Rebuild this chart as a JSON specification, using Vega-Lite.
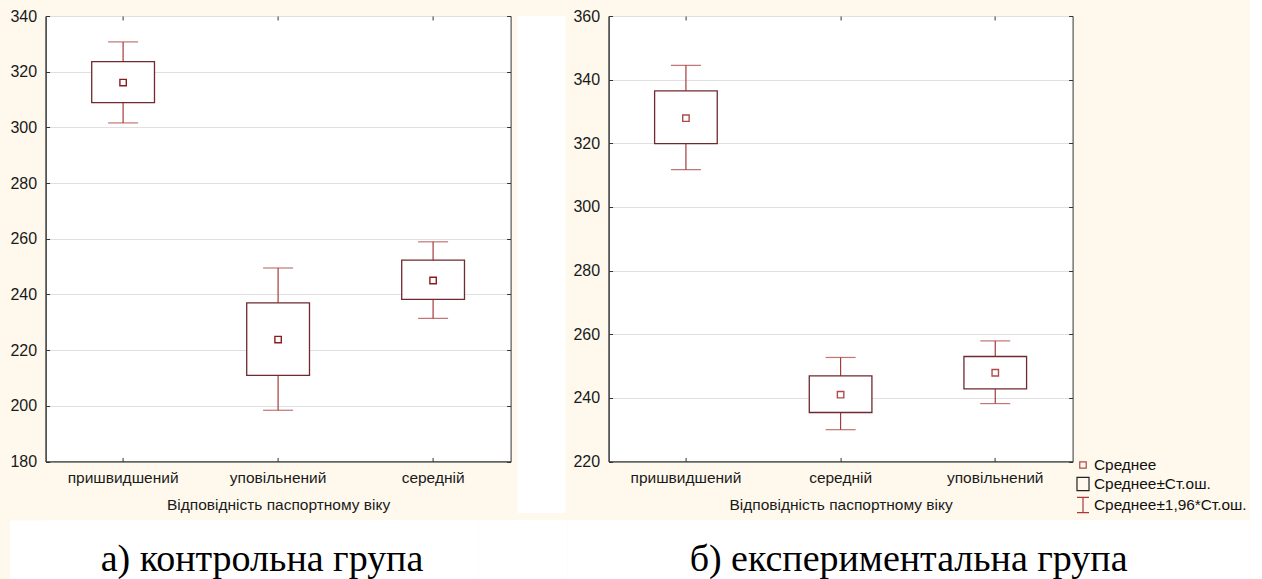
{
  "$schema": "https://vega.github.io/schema/vega-lite/v6.json",
  "background": "#fff9ed",
  "padding": {"left": 8.6, "top": 7, "right": 0, "bottom": 0},
  "spacing": 3,
  "align": "none",
  "resolve": {"legend": {"shape": "independent", "color": "independent"}},
  "config": {
    "font": "Liberation Sans",
    "view": {"stroke": "#333333", "strokeWidth": 1, "fill": "white"},
    "axis": {
      "labelFont": "Liberation Sans",
      "titleFont": "Liberation Sans",
      "labelColor": "#1a1a1a",
      "titleColor": "#1a1a1a",
      "titleFontWeight": "normal",
      "domainColor": "#333333",
      "tickColor": "#333333",
      "gridColor": "#e0e0e0",
      "gridWidth": 1.2
    },
    "legend": {"labelFont": "Liberation Sans"}
  },
  "vconcat": [
    {
      "spacing": 6,
      "align": "none",
      "resolve": {"legend": {"shape": "independent", "color": "independent"}},
      "hconcat": [
        {
          "width": 465,
          "height": 445.5,
          "data": {"values": [
            {"category": "пришвидшений", "mean": 316.1, "box_lo": 308.9, "box_hi": 323.6, "wh_lo": 301.6, "wh_hi": 330.7},
            {"category": "уповільнений", "mean": 223.8, "box_lo": 210.9, "box_hi": 237.0, "wh_lo": 198.4, "wh_hi": 249.5},
            {"category": "середній", "mean": 245.0, "box_lo": 238.2, "box_hi": 252.3, "wh_lo": 231.4, "wh_hi": 258.9}
          ]},
          "layer": [
            {
              "mark": {"type": "rule", "color": "#a83a3a", "strokeWidth": 1.2},
              "encoding": {
                "x": {"field": "category", "type": "nominal", "sort": null,
                  "scale": {"domain": ["пришвидшений", "уповільнений", "середній"], "paddingInner": 0, "paddingOuter": 0},
                  "axis": {"orient": "bottom", "labelAngle": 0, "labelFontSize": 15.5, "tickSize": -4, "labelPadding": 13, "grid": false, "title": "Відповідність паспортному віку", "titleFontSize": 15.5, "titlePadding": 12}},
                "y": {"field": "wh_lo", "type": "quantitative",
                  "scale": {"domain": [180, 340], "nice": false, "zero": false},
                  "axis": {"orient": "left", "values": [180, 200, 220, 240, 260, 280, 300, 320, 340], "labelFontSize": 16, "tickSize": -4, "labelPadding": 13, "grid": true, "title": null}},
                "y2": {"field": "wh_hi"}
              }
            },
            {
              "mark": {"type": "tick", "color": "#a83a3a", "size": 30, "thickness": 1.2},
              "encoding": {
                "x": {"field": "category", "type": "nominal", "sort": null,
                  "scale": {"domain": ["пришвидшений", "уповільнений", "середній"], "paddingInner": 0, "paddingOuter": 0},
                  "axis": {"orient": "top", "labels": false, "tickSize": -4, "domain": false, "grid": false, "title": null}},
                "y": {"field": "wh_hi", "type": "quantitative",
                  "scale": {"domain": [180, 340], "nice": false, "zero": false},
                  "axis": {"orient": "right", "labels": false, "values": [180, 200, 220, 240, 260, 280, 300, 320, 340], "tickSize": -4, "domain": false, "grid": false, "title": null}}
              }
            },
            {
              "mark": {"type": "tick", "color": "#a83a3a", "size": 30, "thickness": 1.2},
              "encoding": {
                "x": {"field": "category", "type": "nominal", "sort": null,
                  "scale": {"domain": ["пришвидшений", "уповільнений", "середній"], "paddingInner": 0, "paddingOuter": 0}, "axis": null},
                "y": {"field": "wh_lo", "type": "quantitative",
                  "scale": {"domain": [180, 340], "nice": false, "zero": false}, "axis": null}
              }
            },
            {
              "mark": {"type": "bar", "fill": "white", "stroke": "#6e2a2f", "strokeWidth": 1.3, "width": {"band": 0.405}},
              "encoding": {
                "x": {"field": "category", "type": "nominal", "sort": null,
                  "scale": {"domain": ["пришвидшений", "уповільнений", "середній"], "paddingInner": 0, "paddingOuter": 0}, "axis": null},
                "y": {"field": "box_lo", "type": "quantitative",
                  "scale": {"domain": [180, 340], "nice": false, "zero": false}, "axis": null},
                "y2": {"field": "box_hi"}
              }
            },
            {
              "mark": {"type": "point", "shape": "M-0.4,-0.4H0.4V0.4H-0.4Z", "size": 256, "filled": false, "color": "#8b1c1c", "strokeWidth": 1.4, "opacity": 1},
              "encoding": {
                "x": {"field": "category", "type": "nominal", "sort": null,
                  "scale": {"domain": ["пришвидшений", "уповільнений", "середній"], "paddingInner": 0, "paddingOuter": 0}, "axis": null},
                "y": {"field": "mean", "type": "quantitative",
                  "scale": {"domain": [180, 340], "nice": false, "zero": false}, "axis": null}
              }
            }
          ],
          "resolve": {"axis": {"x": "independent", "y": "independent"}}
        },
        {
          "width": 48,
          "height": 497,
          "view": {"fill": "white", "stroke": null},
          "data": {"values": [{"t": ""}]},
          "mark": "text",
          "encoding": {"text": {"field": "t"}}
        },
        {
          "width": 464,
          "height": 445.5,
          "data": {"values": [
            {"category": "пришвидшений", "mean": 327.9, "box_lo": 319.9, "box_hi": 336.5, "wh_lo": 311.7, "wh_hi": 344.5},
            {"category": "середній", "mean": 241.0, "box_lo": 235.4, "box_hi": 246.9, "wh_lo": 230.0, "wh_hi": 252.7},
            {"category": "уповільнений", "mean": 247.9, "box_lo": 242.8, "box_hi": 253.0, "wh_lo": 238.2, "wh_hi": 257.9}
          ]},
          "layer": [
            {
              "mark": {"type": "rule", "color": "#a83a3a", "strokeWidth": 1.2},
              "encoding": {
                "x": {"field": "category", "type": "nominal", "sort": null,
                  "scale": {"domain": ["пришвидшений", "середній", "уповільнений"], "paddingInner": 0, "paddingOuter": 0},
                  "axis": {"orient": "bottom", "labelAngle": 0, "labelFontSize": 15.5, "tickSize": -4, "labelPadding": 13, "grid": false, "title": "Відповідність паспортному віку", "titleFontSize": 15.5, "titlePadding": 12}},
                "y": {"field": "wh_lo", "type": "quantitative",
                  "scale": {"domain": [220, 360], "nice": false, "zero": false},
                  "axis": {"orient": "left", "values": [220, 240, 260, 280, 300, 320, 340, 360], "labelFontSize": 16, "tickSize": -4, "labelPadding": 13, "grid": true, "title": null}},
                "y2": {"field": "wh_hi"}
              }
            },
            {
              "mark": {"type": "tick", "color": "#a83a3a", "size": 30, "thickness": 1.2},
              "encoding": {
                "x": {"field": "category", "type": "nominal", "sort": null,
                  "scale": {"domain": ["пришвидшений", "середній", "уповільнений"], "paddingInner": 0, "paddingOuter": 0},
                  "axis": {"orient": "top", "labels": false, "tickSize": -4, "domain": false, "grid": false, "title": null}},
                "y": {"field": "wh_hi", "type": "quantitative",
                  "scale": {"domain": [220, 360], "nice": false, "zero": false},
                  "axis": {"orient": "right", "labels": false, "values": [220, 240, 260, 280, 300, 320, 340, 360], "tickSize": -4, "domain": false, "grid": false, "title": null}}
              }
            },
            {
              "mark": {"type": "tick", "color": "#a83a3a", "size": 30, "thickness": 1.2},
              "encoding": {
                "x": {"field": "category", "type": "nominal", "sort": null,
                  "scale": {"domain": ["пришвидшений", "середній", "уповільнений"], "paddingInner": 0, "paddingOuter": 0}, "axis": null},
                "y": {"field": "wh_lo", "type": "quantitative",
                  "scale": {"domain": [220, 360], "nice": false, "zero": false}, "axis": null}
              }
            },
            {
              "mark": {"type": "bar", "fill": "white", "stroke": "#6e2a2f", "strokeWidth": 1.3, "width": {"band": 0.405}},
              "encoding": {
                "x": {"field": "category", "type": "nominal", "sort": null,
                  "scale": {"domain": ["пришвидшений", "середній", "уповільнений"], "paddingInner": 0, "paddingOuter": 0}, "axis": null},
                "y": {"field": "box_lo", "type": "quantitative",
                  "scale": {"domain": [220, 360], "nice": false, "zero": false}, "axis": null},
                "y2": {"field": "box_hi"}
              }
            },
            {
              "mark": {"type": "point", "size": 196, "filled": false, "strokeWidth": 1.4, "opacity": 1},
              "encoding": {
                "x": {"field": "category", "type": "nominal", "sort": null,
                  "scale": {"domain": ["пришвидшений", "середній", "уповільнений"], "paddingInner": 0, "paddingOuter": 0}, "axis": null},
                "y": {"field": "mean", "type": "quantitative",
                  "scale": {"domain": [220, 360], "nice": false, "zero": false}, "axis": null},
                "shape": {"datum": "Среднее", "type": "nominal",
                  "scale": {"domain": ["Среднее", "Среднее±Ст.ош.", "Среднее±1,96*Ст.ош."],
                            "range": ["M-0.46,-0.46H0.46V0.46H-0.46Z", "M-0.86,-0.95H0.86V0.95H-0.86Z", "M-0.86,-1.09H0.86M0,-1.09V1.09M-0.86,1.09H0.86"]},
                  "legend": {"title": null, "orient": "none", "legendX": 466.4, "legendY": 441, "padding": 0, "symbolSize": 196, "symbolStrokeWidth": 1.2, "labelFontSize": 15.4, "labelColor": "#111111", "rowPadding": 0, "labelOffset": 3}},
                "color": {"datum": "Среднее", "type": "nominal",
                  "scale": {"domain": ["Среднее", "Среднее±Ст.ош.", "Среднее±1,96*Ст.ош."],
                            "range": ["#b04a4a", "#222222", "#a83a3a"]},
                  "legend": {"title": null, "orient": "none", "legendX": 466.4, "legendY": 441, "padding": 0, "symbolSize": 196, "symbolStrokeWidth": 1.2, "labelFontSize": 15.4, "labelColor": "#111111", "rowPadding": 0, "labelOffset": 3}}
              }
            }
          ],
          "resolve": {"axis": {"x": "independent", "y": "independent"}}
        }
      ]
    },
    {
      "spacing": 0,
      "align": "none",
      "hconcat": [
        {
          "width": 432.8, "height": 60,
          "view": {"fill": "white", "stroke": null},
          "data": {"values": [{"caption": "а) контрольна група"}]},
          "mark": {"type": "text", "font": "Liberation Serif", "fontSize": 38, "baseline": "alphabetic", "dy": 21, "color": "black"},
          "encoding": {
            "text": {"field": "caption"},
            "y": {"datum": 0.5, "type": "quantitative", "scale": {"domain": [0, 1]},
              "axis": {"domainColor": "white", "domainWidth": 72, "labels": false, "ticks": false, "grid": false, "title": null}}
          }
        },
        {
          "width": 88.6, "height": 60,
          "view": {"fill": "white", "stroke": null},
          "data": {"values": [{"caption": ""}]},
          "mark": {"type": "text"},
          "encoding": {"text": {"field": "caption"}}
        },
        {
          "width": 682, "height": 60,
          "view": {"fill": "white", "stroke": null},
          "data": {"values": [{"caption": "б) експериментальна група"}]},
          "mark": {"type": "text", "font": "Liberation Serif", "fontSize": 38, "baseline": "alphabetic", "dy": 21, "color": "black"},
          "encoding": {"text": {"field": "caption"}}
        }
      ]
    }
  ]
}
